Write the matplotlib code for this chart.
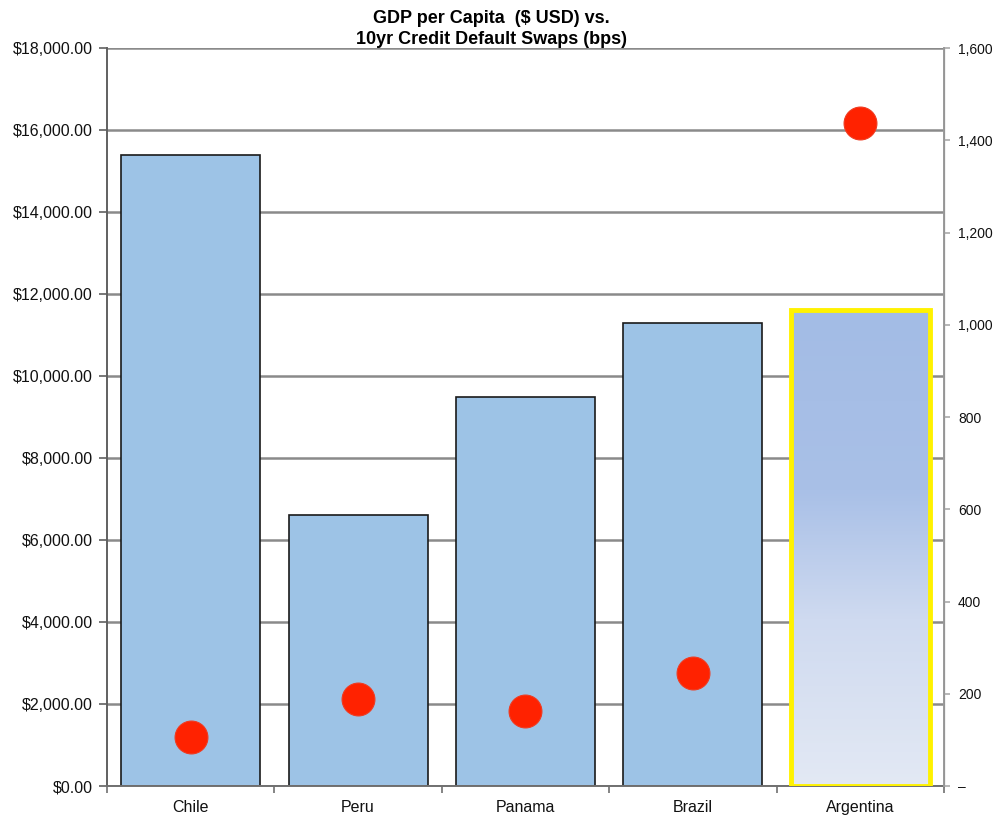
import matplotlib as mpl
mpl.use('Agg')

import numpy as np
import matplotlib.pyplot as plt
from matplotlib.patches import Rectangle
from matplotlib.colors import LinearSegmentedColormap
from matplotlib.ticker import FuncFormatter, MultipleLocator

# --- dados ---
paises = ['Chile', 'Peru', 'Panama', 'Brazil', 'Argentina']
pib_per_capita = [15400, 6600, 9500, 11300, 11600]
cds_10a = [106, 189, 163, 245, 1438]

plt.rcParams['font.family'] = ['Liberation Sans', 'DejaVu Sans']

fig = plt.figure(figsize=(9.93, 8.17), dpi=100)
ax = fig.add_axes([107 / 993, 31 / 817, 837 / 993, 738 / 817])
ax2 = ax.twinx()

x = np.arange(len(paises))
largura = 0.83
tam_fonte = 11.5

# barras normais (Argentina recebe gradiente a parte)
ax.bar(x[:-1], pib_per_capita[:-1], width=largura, color='#9DC3E6',
       edgecolor='#1a1a1a', linewidth=1.2, zorder=2)

# Argentina: gradiente com contorno amarelo
xa = x[-1]
ha = pib_per_capita[-1]
cmap_grad = LinearSegmentedColormap.from_list(
    'grad', [(0.0, '#E3E9F4'), (0.35, '#CFDAF0'), (0.62, '#A9C0E7'), (1.0, '#A3BCE5')])
grad = np.linspace(0, 1, 256).reshape(-1, 1)
ax.imshow(grad, extent=(xa - largura / 2, xa + largura / 2, 0, ha), origin='lower',
          aspect='auto', cmap=cmap_grad, zorder=2)
ax.add_patch(Rectangle((xa - largura / 2, 0), largura, ha, fill=False,
                       edgecolor='#FFF200', linewidth=3.5, zorder=3))

ax.set_xlim(-0.5, len(paises) - 0.5)
ax.set_ylim(0, 18000)
ax.yaxis.set_major_locator(MultipleLocator(2000))
ax.yaxis.set_major_formatter(FuncFormatter(lambda v, p: f'${v:,.2f}'))
ax.grid(axis='y', color='#8a8a8a', linewidth=1.8)
ax.set_axisbelow(True)

ax.set_xticks(x)
ax.set_xticklabels(paises)
ax.set_xticks(np.arange(-0.5, len(paises)), minor=True)
ax.tick_params(axis='x', which='major', length=0, pad=10, labelsize=tam_fonte, colors='#111111')
ax.tick_params(axis='x', which='minor', length=5, width=1.2, color='#707070')
ax.tick_params(axis='y', length=6, width=1.2, color='#606060', labelsize=tam_fonte,
               labelcolor='#111111', pad=4)

ax.spines['top'].set_visible(False)
ax2.spines['top'].set_visible(False)
ax.spines['left'].set_color('#606060')
ax.spines['left'].set_linewidth(1.4)
ax.spines['bottom'].set_color('#707070')
ax.spines['bottom'].set_linewidth(1.4)
ax2.spines['right'].set_color('#9a9a9a')
ax2.spines['right'].set_linewidth(1.4)
ax2.spines['left'].set_visible(False)
ax2.spines['bottom'].set_visible(False)

# CDS (eixo da direita)
ax2.scatter(x, cds_10a, s=560, color='#FF2200', edgecolors='#F03A20',
            linewidths=0.8, zorder=5)
ax2.set_ylim(0, 1600)
ax2.yaxis.set_major_locator(MultipleLocator(200))
ax2.yaxis.set_major_formatter(FuncFormatter(lambda v, p: '–' if v == 0 else f'{v:,.0f}'))
ax2.tick_params(axis='y', length=4, width=1.2, color='#aaaaaa', labelsize=10,
                labelcolor='#111111', pad=6)

fig.text(491 / 993, 1 - 10 / 817, 'GDP per Capita  ($ USD) vs.\n10yr Credit Default Swaps (bps)',
         ha='center', va='top', fontsize=13, fontweight='bold', linespacing=1.3)

plt.savefig('out.png', dpi=100)
plt.close(fig)
